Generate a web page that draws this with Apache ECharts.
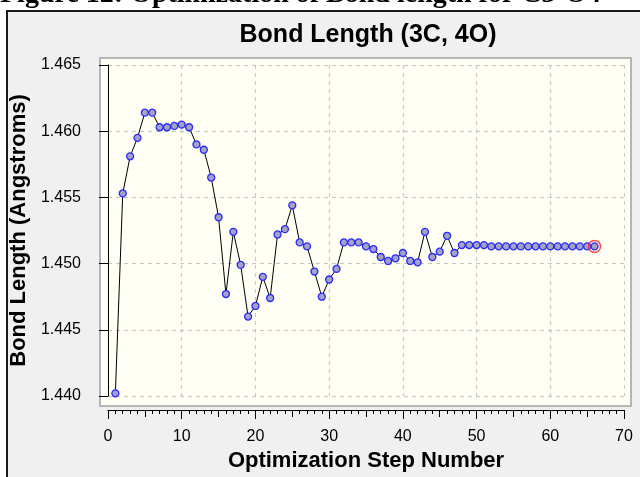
<!DOCTYPE html>
<html>
<head>
<meta charset="utf-8">
<script src="https://cdn.jsdelivr.net/npm/echarts@6/dist/echarts.min.js"></script>
<style>
html,body{margin:0;padding:0;background:#fff;}
#chart{width:640px;height:477px;}
</style>
</head>
<body>
<div id="chart"></div>
<script>
var steps = [];
for (var i = 1; i <= 66; i++) steps.push(i);
var bondLength = [
  1.4402, 1.4553, 1.4581, 1.4595, 1.4614, 1.4614, 1.4603, 1.4603, 1.4604, 1.4605,
  1.4603, 1.4590, 1.4586, 1.4565, 1.4535, 1.4477, 1.4524, 1.4499, 1.4460, 1.4468,
  1.4490, 1.4474, 1.4522, 1.4526, 1.4544, 1.4516, 1.4513, 1.4494, 1.4475, 1.4488,
  1.4496, 1.4516, 1.4516, 1.4516, 1.4513, 1.4511, 1.4505, 1.4502, 1.4504, 1.4508,
  1.4502, 1.4501, 1.4524, 1.4505, 1.4509, 1.4521, 1.4508, 1.4514, 1.4514, 1.4514,
  1.4514, 1.4513, 1.4513, 1.4513, 1.4513, 1.4513, 1.4513, 1.4513, 1.4513, 1.4513,
  1.4513, 1.4513, 1.4513, 1.4513, 1.4513, 1.4513
];
var xTicks = [0, 10, 20, 30, 40, 50, 60, 70];
var yTicks = [1.440, 1.445, 1.450, 1.455, 1.460, 1.465];
var titleText = 'Bond Length (3C, 4O)';
var xName = 'Optimization Step Number';
var yName = 'Bond Length (Angstroms)';
var captionText = 'Figure 12: Optimization of Bond length for C3-O4';

var points = steps.map(function (s, i) { return [s, bondLength[i]]; });
var last = [points[points.length - 1]];

var chart = echarts.init(document.getElementById('chart'), null, {renderer: 'canvas'});
var font = 'Liberation Sans, Arial, sans-serif';
var dash = {color: '#C8C8C8', width: 1.2, type: [4, 4]};

function xAxisBase(interval, tickLen, main) {
  return {
    type: 'value', min: xTicks[0], max: xTicks[xTicks.length - 1], interval: interval,
    position: 'bottom', offset: 14,
    axisLine: {show: main, lineStyle: {color: '#000', width: 1}},
    axisTick: {show: true, length: tickLen, lineStyle: {color: '#000', width: 1}},
    axisLabel: {show: main, fontSize: 16, color: '#000', fontFamily: font, margin: 19},
    splitLine: {show: main, lineStyle: dash},
    name: main ? xName : '', nameLocation: 'middle', nameGap: 40,
    nameTextStyle: {fontSize: 22, fontWeight: 'bold', color: '#000', fontFamily: font}
  };
}

chart.setOption({
  animation: false,
  grid: {left: 108, right: 16, top: 65, bottom: 79},
  graphic: [
    {type: 'rect', z: -100, shape: {x: 7, y: 11, width: 640, height: 480},
     style: {fill: '#F0F0F0', stroke: '#1A1A1A', lineWidth: 2}},
    {type: 'text', z: -90, x: 0, y: -19,
     style: {text: captionText, font: 'bold 28px "Liberation Serif", serif', fill: '#000'}},
    {type: 'rect', z: -80, shape: {x: 100, y: 58, width: 531, height: 348},
     style: {fill: '#FFFFF5', stroke: '#A0A0A0', lineWidth: 1.5}},
    {type: 'text', z: 10, x: 368, y: 35,
     style: {text: titleText, font: 'bold 25px "Liberation Sans", Arial, sans-serif', fill: '#000',
             textAlign: 'center', textVerticalAlign: 'middle'}}
  ],
  xAxis: [xAxisBase(10, 9, true), xAxisBase(5, 7, false), xAxisBase(1, 4, false)],
  yAxis: {
    type: 'value', min: yTicks[0], max: yTicks[yTicks.length - 1], interval: 0.005,
    offset: 11,
    axisLine: {show: true, lineStyle: {color: '#000', width: 1}},
    axisTick: {show: true, length: 9, lineStyle: {color: '#000', width: 1}},
    axisLabel: {fontSize: 16, color: '#000', fontFamily: font, margin: 16,
                formatter: function (v) { return v.toFixed(3); }},
    splitLine: {show: true, lineStyle: dash},
    name: yName, nameLocation: 'middle', nameGap: 64,
    nameTextStyle: {fontSize: 22, fontWeight: 'bold', color: '#000', fontFamily: font}
  },
  series: [
    {
      type: 'line', data: points, xAxisIndex: 0,
      symbol: 'circle', symbolSize: 7, showAllSymbol: true,
      lineStyle: {color: '#000', width: 1},
      itemStyle: {color: '#A4A4C0', borderColor: '#2A2AFF', borderWidth: 1.3}
    },
    {
      type: 'scatter', data: last, xAxisIndex: 0, symbol: 'circle', symbolSize: 12,
      itemStyle: {color: 'rgba(0,0,0,0)', borderColor: '#FF2020', borderWidth: 1.5}, z: 5
    }
  ]
});
</script>
</body>
</html>
